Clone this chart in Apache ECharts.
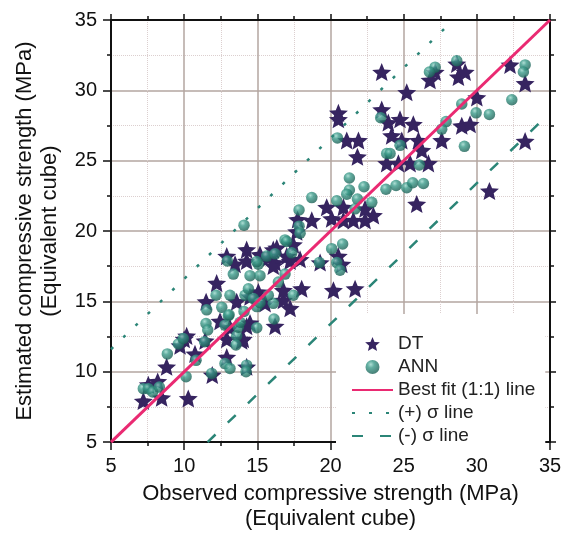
<!DOCTYPE html>
<html>
<head>
<meta charset="utf-8">
<script src="https://cdn.jsdelivr.net/npm/echarts@6/dist/echarts.min.js"></script>
<style>
  html, body { margin: 0; padding: 0; background: #fff; }
  #chart { width: 569px; height: 536px; }
</style>
</head>
<body>
<div id="chart"></div>
<script>
// observed vs estimated (MPa)
var dtPoints = [
  [7.21,7.92],[7.55,9.08],[8.19,9.31],[8.46,8.15],[10.28,8.10],[8.80,10.35],[9.72,11.85],[10.74,11.27],
  [10.0,12.31],[11.92,9.77],[11.43,12.20],[11.5,14.98],[12.91,11.04],[12.91,12.31],[12.45,13.59],[13.59,14.98],
  [14.27,10.35],[13.93,12.2],[14.5,13.47],[12.22,16.30],[12.91,18.22],[13.48,17.64],[14.27,18.68],[14.27,17.87],
  [15.18,18.33],[16.09,18.68],[16.21,17.76],[17.24,17.87],[15.07,15.67],[14.5,15.33],[15.53,14.86],[16.78,15.09],
  [17.24,14.51],[16.21,13.24],[13.13,13.13],[14.27,13.24],[14.04,12.31],[10.17,12.55],[17.75,20.82],[17.69,19.95],
  [21.84,25.28],[23.84,24.81],[19.74,21.69],[20.88,21.69],[18.72,20.76],[20.08,20.88],[20.88,20.76],[21.56,20.76],
  [22.36,20.76],[22.93,21.11],[22.36,21.58],[16.33,18.80],[17.46,19.03],[15.75,18.10],[17.01,18.22],[17.92,17.99],
  [16.09,17.52],[20.53,18.22],[19.29,17.76],[20.77,17.64],[20.20,15.79],[21.68,15.90],[18.03,15.90],[16.78,15.79],
  [25.21,29.86],[20.54,28.40],[20.54,27.94],[23.50,28.63],[23.95,27.71],[24.75,27.94],[25.66,27.59],[24.18,26.78],
  [24.87,26.44],[21.11,26.44],[21.91,26.44],[26.01,26.44],[26.24,25.74],[27.6,26.44],[28.97,27.48],[29.54,27.59],
  [24.64,24.81],[25.44,24.81],[26.69,24.81],[25.89,21.92],[32.27,31.81],[33.30,30.49],[26.8,30.72],[27.15,31.30],
  [28.63,31.88],[28.74,30.95],[29.2,31.30],[30.0,29.49],[33.30,26.39],[30.86,22.85],[23.5,31.30]
];
var annPoints = [
  [7.21,8.80],[7.55,8.80],[7.85,8.56],[8.30,8.91],[8.85,11.27],[9.60,11.97],[9.94,12.36],[10.81,10.81],
  [10.13,9.65],[11.88,9.88],[11.40,12.13],[11.49,13.43],[11.61,12.97],[11.54,14.4],[12.18,15.44],[12.57,14.58],
  [13.02,13.98],[12.79,13.31],[13.59,12.55],[13.70,13.17],[13.82,13.52],[13.54,11.9],[12.79,10.58],[13.13,10.23],
  [14.27,10.47],[14.23,10.0],[14.09,14.29],[13.13,15.44],[14.16,15.44],[14.96,14.63],[14.73,15.2],[14.09,20.42],
  [12.95,17.87],[13.36,16.94],[14.5,16.83],[15.18,16.83],[15.07,17.64],[15.64,18.22],[16.21,18.38],[16.89,19.37],
  [17.35,18.45],[16.89,16.94],[16.44,16.37],[17.46,15.44],[16.09,14.86],[15.75,15.44],[14.39,15.90],[15.18,14.91],
  [13.07,14.05],[14.96,13.13],[16.14,13.75],[17.85,21.5],[17.85,20.35],[17.92,19.84],[23.84,25.51],[21.29,23.77],
  [22.29,23.15],[21.29,22.92],[21.11,22.62],[21.84,22.27],[22.82,22.04],[21.68,21.58],[20.43,22.15],[18.72,22.38],
  [23.79,22.97],[17.01,19.26],[14.96,17.83],[20.08,18.75],[20.83,19.08],[20.43,17.76],[20.65,17.22],[19.24,17.76],
  [23.43,28.06],[20.47,26.62],[24.75,26.09],[24.07,25.51],[26.07,24.70],[28.97,29.03],[29.95,28.40],[27.90,27.78],
  [27.6,27.24],[29.15,26.02],[24.48,23.24],[25.21,23.08],[25.62,23.43],[26.35,23.38],[33.30,31.81],[33.18,31.30],
  [28.63,32.10],[27.15,31.65],[26.76,31.30],[32.39,29.33],[30.86,28.29]
];
var bestFitLine = [[5, 5], [35, 35]];
var plusSigmaLine = [[5, 11.6], [28.4, 35]];
var minusSigmaLine = [[11.6, 5], [35, 28.4]];

var font = 'Arial, "Liberation Sans", sans-serif';
var starPath = 'path://M0,-10 L2.645,-3.64 L9.51,-3.09 L4.28,1.39 L5.88,8.09 L0,4.5 L-5.88,8.09 L-4.28,1.39 L-9.51,-3.09 L-2.645,-3.64 Z';
var teal = '#2b8577';
var noMark = { color: 'rgba(0,0,0,0)', opacity: 0, borderWidth: 0 };

var chart = echarts.init(document.getElementById('chart'));

function mainAxis(pos, name) {
  return {
    type: 'value', position: pos, min: 5, max: 35, interval: 5,
    name: name, nameLocation: 'middle',
    nameTextStyle: { fontFamily: font, fontSize: 22, color: '#111', lineHeight: 25 },
    axisLine: { show: true, onZero: false, lineStyle: { color: '#111', width: 2 } },
    axisTick: { show: true, length: 8, lineStyle: { color: '#111', width: 1.5 } },
    minorTick: { show: true, splitNumber: 2, length: 4, lineStyle: { color: '#111', width: 1.5 } },
    axisLabel: { fontFamily: font, fontSize: 20, color: '#111', margin: 14 },
    splitLine: { show: true, lineStyle: { color: '#b3a6a0', width: 1.5 } },
    minorSplitLine: { show: true, lineStyle: { color: '#dccfcf', width: 1, type: 'dotted' } }
  };
}
function mirrorAxis(pos) {
  return {
    type: 'value', position: pos, min: 5, max: 35, interval: 5,
    axisLine: { show: true, onZero: false, lineStyle: { color: '#111', width: 2 } },
    axisTick: { show: true, length: 6, lineStyle: { color: '#111', width: 1.5 } },
    minorTick: { show: true, splitNumber: 2, length: 4, lineStyle: { color: '#111', width: 1.5 } },
    axisLabel: { show: false },
    splitLine: { show: false }
  };
}

var xMain = mainAxis('bottom', 'Observed compressive strength (MPa)\n(Equivalent cube)');
xMain.nameGap = 37;
var yMain = mainAxis('left', 'Estimated compressive strength (MPa)\n(Equivalent cube)');
yMain.nameGap = 49;

chart.setOption({
  animation: false,
  backgroundColor: '#fff',
  grid: { left: 111, right: 19, top: 20, bottom: 84 },
  xAxis: [xMain, mirrorAxis('top')],
  yAxis: [yMain, mirrorAxis('right')],
  legend: {
    orient: 'vertical',
    left: 336, top: 314,
    padding: [20, 10, 8, 15],
    backgroundColor: '#fff',
    itemWidth: 41, itemHeight: 14, itemGap: 3,
    textStyle: { fontFamily: font, fontSize: 19, color: '#222', lineHeight: 20 },
    data: [
      'DT',
      'ANN',
      { name: 'Best fit (1:1) line', itemStyle: noMark },
      { name: '(+) \u03c3 line', itemStyle: noMark },
      { name: '(-) \u03c3 line', itemStyle: noMark }
    ]
  },
  series: [
    {
      name: 'DT', type: 'scatter', data: dtPoints,
      symbol: starPath, symbolSize: 19, symbolKeepAspect: true,
      itemStyle: { color: '#362460', opacity: 1 }
    },
    {
      name: 'ANN', type: 'scatter', data: annPoints,
      symbol: 'circle', symbolSize: 11.5,
      itemStyle: {
        color: {
          type: 'radial', x: 0.38, y: 0.32, r: 0.7,
          colorStops: [
            { offset: 0, color: '#9ad6ca' },
            { offset: 0.35, color: '#3a9a89' },
            { offset: 1, color: '#1a5f54' }
          ]
        }
      }
    },
    {
      name: 'Best fit (1:1) line', type: 'line', data: bestFitLine, z: 4,
      symbol: 'none', lineStyle: { color: '#ea2a72', width: 3 }, itemStyle: { color: '#ea2a72' }
    },
    {
      name: '(+) \u03c3 line', type: 'line', data: plusSigmaLine, z: 4,
      symbol: 'none', lineStyle: { color: teal, width: 2.5, type: [3, 14] }, itemStyle: { color: teal }
    },
    {
      name: '(-) \u03c3 line', type: 'line', data: minusSigmaLine, z: 4,
      symbol: 'none', lineStyle: { color: teal, width: 2.5, type: [11, 17] }, itemStyle: { color: teal }
    }
  ]
});
</script>
</body>
</html>
